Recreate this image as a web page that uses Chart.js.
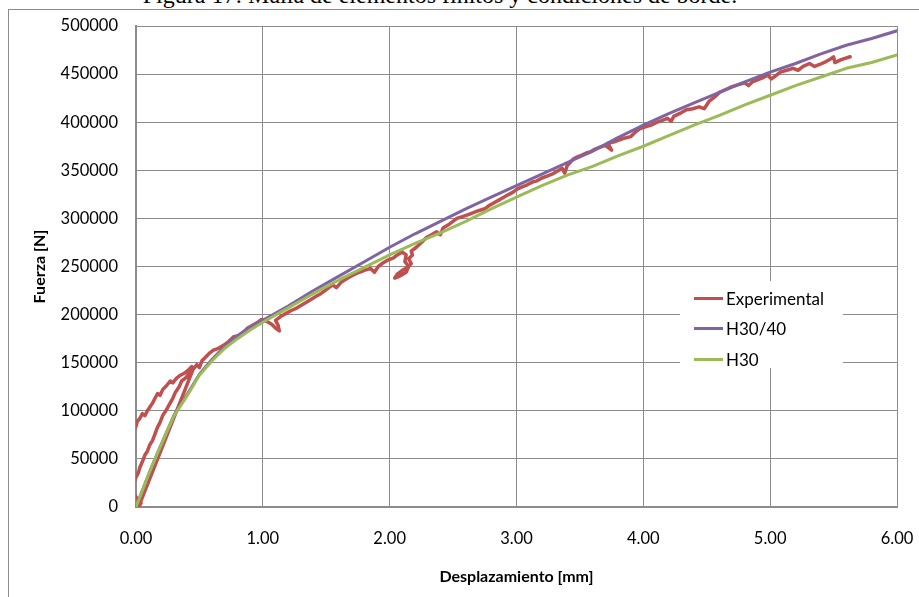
<html lang="es">
<head>
  <meta charset="UTF-8">
  <title>Fuerza - Desplazamiento</title>
  <script src="https://cdn.jsdelivr.net/npm/chart.js"></script>
  <style>
    body { margin: 0; background: #ffffff; width: 919px; height: 597px; overflow: hidden; position: relative; }
    .caption {
      position: absolute; left: 0; top: -17px; width: 880px; text-align: center;
      font-family: "Liberation Serif", "Times New Roman", serif; font-size: 24px; line-height: 24px; color: #000;
    }
    .frame {
      position: absolute; left: 8px; top: 9px; width: 1000px; height: 1000px;
      border-left: 1px solid #8c8c8c; border-top: 1px solid #8c8c8c;
    }
    #chartWrap { position: absolute; left: 0; top: 0; }
    .legend {
      position: absolute; left: 680px; top: 281px; width: 163px; height: 87px; background: #fff;
    }
    .legend-item {
      position: absolute; left: 14px; height: 20px; display: flex; align-items: center;
      font-family: Lato, "Open Sans", sans-serif; font-size: 17px; color: #000;
    }
    .legend-item .color-line { display: inline-block; width: 29px; height: 3px; margin-right: 3px; }
  </style>
</head>

<body>
  <div class="caption">Figura 17: Malla de elementos finitos y condiciones de borde.</div>
  <div class="frame"></div>
  <div id="chartWrap"><canvas id="chartFuerza" width="919" height="597"></canvas></div>
  <div id="legend-container" class="legend"></div>

  <script>
    // ensayo experimental (desplazamiento mm / fuerza N)
    const expX = [
      -0.03, 0.00, 0.01, 0.03, 0.05, 0.07, 0.09, 0.11, 0.13, 0.15, 0.17, 0.19, 0.21, 0.24, 0.27, 0.29, 0.32, 0.35, 0.38, 0.41, 0.44,
      0.42, 0.39, 0.36, 0.34, 0.31, 0.29, 0.26, 0.24, 0.21, 0.19, 0.17, 0.15, 0.13, 0.11, 0.09, 0.07, 0.05, 0.03, 0.02, 0.00, -0.02, -0.01, 0.04, 0.02,
      0.45,
      0.48, 0.50, 0.52, 0.55, 0.58, 0.61, 0.65, 0.69, 0.73, 0.77, 0.81, 0.85, 0.88, 0.92, 0.96, 0.99, 1.03, 1.07, 1.10, 1.13, 1.12, 1.10,
      1.14, 1.18, 1.22, 1.27, 1.32, 1.37, 1.42, 1.46, 1.50, 1.55, 1.58, 1.62, 1.67, 1.71, 1.76, 1.80, 1.85, 1.88, 1.91, 1.95, 1.99,
      2.03, 2.06, 2.10, 2.13, 2.12, 2.15, 2.13, 2.08, 2.04, 2.06, 2.10, 2.14, 2.17, 2.15, 2.18, 2.17, 2.21, 2.25, 2.29, 2.33, 2.37, 2.40,
      2.42, 2.47, 2.53, 2.58, 2.62, 2.66, 2.70, 2.75, 2.78, 2.82, 2.86, 2.90, 2.94, 2.97, 3.00, 3.03, 3.07, 3.10, 3.13, 3.16, 3.20,
      3.24, 3.28, 3.32, 3.36, 3.38, 3.40, 3.45, 3.48, 3.52, 3.55, 3.58, 3.62, 3.66, 3.70, 3.75, 3.72, 3.78, 3.84, 3.90, 3.94, 3.97,
      4.01, 4.06, 4.11, 4.15, 4.19, 4.22, 4.24, 4.30, 4.34, 4.39, 4.44, 4.48, 4.52, 4.56, 4.60, 4.65, 4.70, 4.75, 4.80, 4.83, 4.86,
      4.90, 4.94, 4.98, 5.01, 5.04, 5.08, 5.13, 5.18, 5.22, 5.26, 5.31, 5.35, 5.39, 5.44, 5.48, 5.50, 5.51, 5.56, 5.63
    ];
    const expF = [
      76000, 84000, 89000, 92000, 97000, 95000, 100000, 104000, 108000, 113000, 118000, 116000, 122000, 126000, 131000, 129000, 134000, 137000, 139000, 142000, 146000,
      139000, 134000, 131000, 125000, 119000, 113000, 106000, 101000, 95000, 88000, 83000, 76000, 69000, 65000, 58000, 54000, 47000, 41000, 36000, 31000, 24000, 12000, 4000, 0,
      143000,
      148000, 145000, 152000, 156000, 160000, 163000, 165000, 168000, 172000, 177000, 178000, 182000, 186000, 189000, 192000, 195000, 193000, 190000, 186000, 183000, 189000, 194000,
      198000, 201000, 204000, 207000, 211000, 215000, 219000, 222000, 226000, 231000, 228000, 234000, 238000, 241000, 244000, 246000, 248000, 244000, 250000, 254000, 257000,
      259000, 262000, 265000, 262000, 255000, 250000, 244000, 240000, 238000, 242000, 246000, 249000, 253000, 258000, 262000, 266000, 270000, 275000, 280000, 283000, 286000, 283000,
      290000, 294000, 300000, 302000, 304000, 306000, 308000, 310000, 313000, 316000, 319000, 322000, 325000, 327000, 330000, 332000, 334000, 336000, 338000, 339000, 342000,
      344000, 346000, 349000, 352000, 347000, 355000, 362000, 364000, 366000, 368000, 369000, 372000, 374000, 376000, 371000, 378000, 380000, 383000, 385000, 390000, 393000,
      395000, 397000, 400000, 402000, 404000, 401000, 406000, 410000, 413000, 414000, 416000, 414000, 422000, 426000, 431000, 434000, 437000, 439000, 441000, 438000, 442000,
      444000, 446000, 449000, 445000, 448000, 452000, 454000, 456000, 454000, 458000, 461000, 458000, 460000, 463000, 466000, 468000, 462000, 465000, 468000
    ];

    // modelos H30/40 y H30
    const modelX = [0, 0.05, 0.1, 0.15, 0.2, 0.3, 0.4, 0.5, 0.6, 0.7, 0.8, 0.9, 1.0, 1.2, 1.4, 1.6, 1.8, 2.0, 2.2, 2.4, 2.6, 2.8,
      3.0, 3.2, 3.4, 3.6, 3.8, 4.0, 4.2, 4.4, 4.6, 4.8, 5.0, 5.2, 5.4, 5.6, 5.8, 6.0];
    const h3040F = [0, 17000, 34000, 50000, 65500, 95500, 116500, 138000, 153500, 167000, 178000, 187000, 194000, 209000, 225000, 240000,
      255000, 270000, 284000, 297000, 310000, 322000, 334000, 346000, 358000, 370000, 384000, 397000, 409000, 420000, 431000, 442000,
      452000, 461000, 471000, 480000, 487000, 495000];
    const h30F = [0, 17000, 34000, 50000, 65000, 95000, 115000, 137000, 152000, 165000, 175000, 184000, 192000, 207000, 222000, 236000,
      249000, 262000, 274000, 285000, 297000, 310000, 322000, 334000, 345000, 354000, 365000, 375000, 386000, 397000, 407000, 418000,
      428000, 438000, 447000, 456000, 462000, 470000];

    const xTicks = [0, 1, 2, 3, 4, 5, 6];
    const yTicks = [0, 50000, 100000, 150000, 200000, 250000, 300000, 350000, 400000, 450000, 500000];

    const toPoints = (xs, ys) => xs.map((x, i) => ({ x: x, y: ys[i] }));

    const gridColor = '#8c8c8c';
    const tickFont = { family: 'Lato', size: 16.5 };
    const titleFont = { family: 'Lato', size: 16, weight: 'bold' };

    const htmlLegendPlugin = {
      id: 'htmlLegend',
      afterUpdate(chart, args, options) {
        const box = document.getElementById(options.containerID);
        while (box.firstChild) {
          box.firstChild.remove();
        }
        chart.data.datasets.forEach((ds, i) => {
          const item = document.createElement('div');
          item.classList.add('legend-item');
          item.style.top = (7 + i * 30.5) + 'px';
          const line = document.createElement('span');
          line.classList.add('color-line');
          line.style.background = ds.borderColor;
          item.appendChild(line);
          item.appendChild(document.createTextNode(ds.label));
          box.appendChild(item);
        });
      }
    };

    const ctx = document.getElementById('chartFuerza');
    const chartFuerza = new Chart(ctx, {
      type: 'scatter',
      data: {
        datasets: [{
          label: 'Experimental',
          data: toPoints(expX, expF),
          borderColor: '#C0504D',
          borderWidth: 3.5,
          order: 3
        }, {
          label: 'H30/40',
          data: toPoints(modelX, h3040F),
          borderColor: '#8064A2',
          borderWidth: 3,
          order: 2
        }, {
          label: 'H30',
          data: toPoints(modelX, h30F),
          borderColor: '#9BBB59',
          borderWidth: 3,
          order: 1
        }]
      },
      options: {
        responsive: false,
        animation: false,
        devicePixelRatio: 1,
        showLine: true,
        elements: {
          point: { radius: 0, hoverRadius: 0 },
          line: { tension: 0, borderJoinStyle: 'round', borderCapStyle: 'round' }
        },
        layout: {
          padding: { left: 0, top: 26, right: 22, bottom: 0 }
        },
        scales: {
          x: {
            type: 'linear',
            min: 0,
            max: 6,
            afterBuildTicks: (axis) => { axis.ticks = xTicks.map(v => ({ value: v })); },
            afterFit: (axis) => { axis.height = 90; },
            // invisible tick marks keep the label gap without widening the side padding
            grid: { color: gridColor, lineWidth: 1, drawTicks: true, tickLength: 19, tickColor: 'rgba(0,0,0,0)' },
            border: { color: gridColor, width: 2 },
            ticks: {
              font: tickFont,
              color: '#000',
              padding: 3,
              maxRotation: 0,
              callback: (v) => Number(v).toFixed(2)
            },
            title: {
              display: true,
              text: 'Desplazamiento [mm]',
              font: titleFont,
              color: '#000',
              padding: { top: 0, bottom: 11 }
            }
          },
          y: {
            type: 'linear',
            min: 0,
            max: 500000,
            afterBuildTicks: (axis) => { axis.ticks = yTicks.map(v => ({ value: v })); },
            afterFit: (axis) => { axis.width = 136; },
            grid: { color: gridColor, lineWidth: 1, drawTicks: true, tickLength: 15, tickColor: 'rgba(0,0,0,0)' },
            border: { color: gridColor, width: 2 },
            ticks: {
              font: tickFont,
              color: '#000',
              padding: 3,
              callback: (v) => String(v)
            },
            title: {
              display: true,
              text: 'Fuerza [N]',
              font: titleFont,
              color: '#000',
              padding: { top: 30, bottom: 0 }
            }
          }
        },
        plugins: {
          legend: { display: false },
          tooltip: { enabled: false },
          htmlLegend: { containerID: 'legend-container' }
        }
      },
      plugins: [htmlLegendPlugin]
    });
  </script>
</body>
</html>
